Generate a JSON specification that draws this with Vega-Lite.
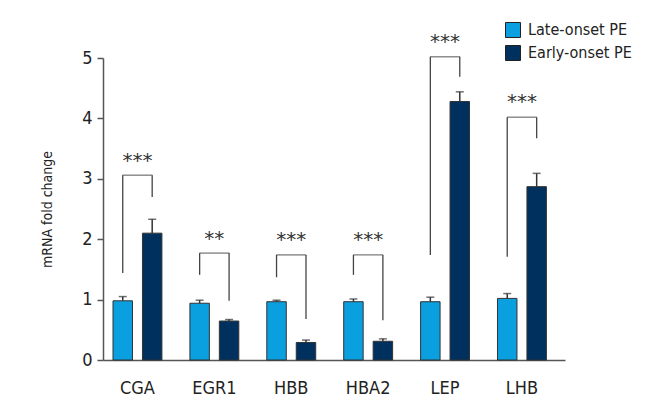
{
  "$schema": "https://vega.github.io/schema/vega-lite/v6.json",
  "width": 462,
  "height": 302,
  "autosize": {"type": "none"},
  "padding": {"left": 103, "top": 58, "right": 95, "bottom": 60},
  "background": "white",
  "config": {
    "view": {"stroke": null},
    "font": "DejaVu Sans Condensed, Liberation Sans, sans-serif",
    "axis": {"labelFont": "DejaVu Sans Condensed, Liberation Sans, sans-serif", "titleFont": "DejaVu Sans Condensed, Liberation Sans, sans-serif", "labelColor": "#222", "titleColor": "#222", "grid": false}
  },
  "datasets": {
    "bars": [
      {"gene": "CGA", "group": "Late-onset PE", "value": 0.98, "err": 1.05},
      {"gene": "CGA", "group": "Early-onset PE", "value": 2.10, "err": 2.33},
      {"gene": "EGR1", "group": "Late-onset PE", "value": 0.94, "err": 0.99},
      {"gene": "EGR1", "group": "Early-onset PE", "value": 0.645, "err": 0.67},
      {"gene": "HBB", "group": "Late-onset PE", "value": 0.965, "err": 0.99},
      {"gene": "HBB", "group": "Early-onset PE", "value": 0.29, "err": 0.33},
      {"gene": "HBA2", "group": "Late-onset PE", "value": 0.965, "err": 1.01},
      {"gene": "HBA2", "group": "Early-onset PE", "value": 0.31, "err": 0.35},
      {"gene": "LEP", "group": "Late-onset PE", "value": 0.965, "err": 1.04},
      {"gene": "LEP", "group": "Early-onset PE", "value": 4.28, "err": 4.44},
      {"gene": "LHB", "group": "Late-onset PE", "value": 1.02, "err": 1.10},
      {"gene": "LHB", "group": "Early-onset PE", "value": 2.87, "err": 3.09}
    ],
    "legs": [
      {"gene": "CGA", "group": "Late-onset PE", "bottom": 1.44, "top": 3.06},
      {"gene": "CGA", "group": "Early-onset PE", "bottom": 2.70, "top": 3.06},
      {"gene": "EGR1", "group": "Late-onset PE", "bottom": 1.41, "top": 1.77},
      {"gene": "EGR1", "group": "Early-onset PE", "bottom": 0.98, "top": 1.77},
      {"gene": "HBB", "group": "Late-onset PE", "bottom": 1.37, "top": 1.74},
      {"gene": "HBB", "group": "Early-onset PE", "bottom": 0.68, "top": 1.74},
      {"gene": "HBA2", "group": "Late-onset PE", "bottom": 1.41, "top": 1.74},
      {"gene": "HBA2", "group": "Early-onset PE", "bottom": 0.66, "top": 1.74},
      {"gene": "LEP", "group": "Late-onset PE", "bottom": 1.74, "top": 5.02},
      {"gene": "LEP", "group": "Early-onset PE", "bottom": 4.69, "top": 5.02},
      {"gene": "LHB", "group": "Late-onset PE", "bottom": 1.71, "top": 4.02},
      {"gene": "LHB", "group": "Early-onset PE", "bottom": 3.67, "top": 4.02}
    ],
    "sig": [
      {"gene": "CGA", "top": 3.06, "stars": "***", "starY": 3.29},
      {"gene": "EGR1", "top": 1.77, "stars": "**", "starY": 2.0},
      {"gene": "HBB", "top": 1.74, "stars": "***", "starY": 1.99},
      {"gene": "HBA2", "top": 1.74, "stars": "***", "starY": 1.99},
      {"gene": "LEP", "top": 5.02, "stars": "***", "starY": 5.26},
      {"gene": "LHB", "top": 4.02, "stars": "***", "starY": 4.27}
    ]
  },
  "encoding": {
    "x": {
      "field": "gene", "type": "nominal",
      "sort": ["CGA", "EGR1", "HBB", "HBA2", "LEP", "LHB"],
      "scale": {"paddingInner": 0.364, "paddingOuter": 0.186, "align": 0.35},
      "axis": {"title": null, "labelAngle": 0, "labelFontSize": 18, "ticks": false, "labelPadding": 19, "domainColor": "#555", "domainWidth": 1.5}
    }
  },
  "layer": [
    {
      "data": {"name": "bars"},
      "mark": {"type": "bar", "stroke": "#333", "strokeWidth": 1},
      "encoding": {
        "xOffset": {"field": "group", "type": "nominal", "sort": ["Late-onset PE", "Early-onset PE"], "scale": {"paddingInner": 0.339}},
        "y": {
          "field": "value", "type": "quantitative",
          "scale": {"domain": [0, 5], "nice": false},
          "axis": {"values": [0, 1, 2, 3, 4, 5], "format": "d", "title": "mRNA fold change", "titleFontSize": 14, "titleFontWeight": "normal", "titlePadding": 27, "labelFontSize": 18, "labelPadding": 5, "tickSize": 6, "tickWidth": 1.5, "tickColor": "#555", "domainColor": "#555", "domainWidth": 1.5}
        },
        "color": {
          "field": "group", "type": "nominal",
          "scale": {"domain": ["Late-onset PE", "Early-onset PE"], "range": ["#0aa0e0", "#00305e"]},
          "legend": {"title": null, "orient": "none", "legendX": 402, "legendY": -36, "symbolType": "square", "symbolSize": 225, "symbolStrokeColor": "#222", "symbolStrokeWidth": 1, "labelFontSize": 16, "labelFont": "DejaVu Sans Condensed, Liberation Sans, sans-serif", "labelColor": "#222", "rowPadding": 3, "labelOffset": 7}
        }
      }
    },
    {
      "data": {"name": "bars"},
      "mark": {"type": "rule", "color": "#333", "strokeWidth": 1.5},
      "encoding": {
        "xOffset": {"field": "group", "type": "nominal", "sort": ["Late-onset PE", "Early-onset PE"]},
        "y": {"field": "value", "type": "quantitative"},
        "y2": {"field": "err"}
      }
    },
    {
      "data": {"name": "bars"},
      "mark": {"type": "tick", "color": "#333", "size": 8, "thickness": 1.5},
      "encoding": {
        "xOffset": {"field": "group", "type": "nominal", "sort": ["Late-onset PE", "Early-onset PE"]},
        "y": {"field": "err", "type": "quantitative"}
      }
    },
    {
      "data": {"name": "legs"},
      "mark": {"type": "rule", "color": "#444", "strokeWidth": 1.3},
      "encoding": {
        "xOffset": {"field": "group", "type": "nominal", "sort": ["Late-onset PE", "Early-onset PE"]},
        "y": {"field": "bottom", "type": "quantitative"},
        "y2": {"field": "top"}
      }
    },
    {
      "data": {"name": "sig"},
      "mark": {"type": "tick", "color": "#444", "size": 30, "thickness": 1.3},
      "encoding": {
        "y": {"field": "top", "type": "quantitative"}
      }
    },
    {
      "data": {"name": "sig"},
      "mark": {"type": "text", "color": "#333", "fontSize": 20, "baseline": "middle", "font": "DejaVu Sans"},
      "encoding": {
        "y": {"field": "starY", "type": "quantitative"},
        "text": {"field": "stars"}
      }
    }
  ]
}
